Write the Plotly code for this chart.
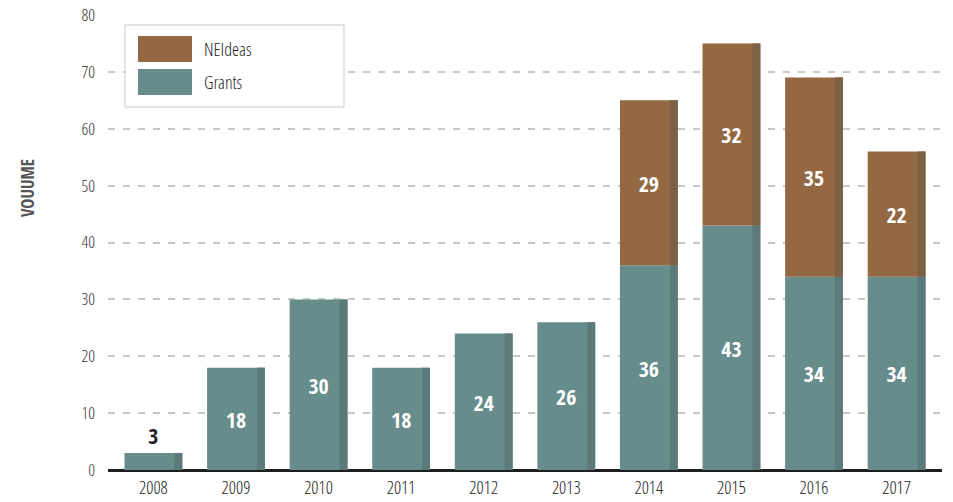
import plotly.graph_objects as go

years = ["2008", "2009", "2010", "2011", "2012", "2013", "2014", "2015", "2016", "2017"]
grants = [3, 18, 30, 18, 24, 26, 36, 43, 34, 34]
neideas = [None, None, None, None, None, None, 29, 32, 35, 22]
y_ticks = [0, 10, 20, 30, 40, 50, 60, 70, 80]

GRANT_FACE, GRANT_SIDE = "#668c8b", "#5b7a79"
IDEA_FACE, IDEA_SIDE = "#936842", "#7b6146"
BOLD_FONT = "Open Sans Condensed, DejaVu Sans Condensed, sans-serif"
LIGHT_FONT = "Open Sans Condensed Light, DejaVu Sans Condensed, sans-serif"

W, H = 953, 502
ML, MR, MT, MB = 108, 11, 15, 32
PW, PH = W - ML - MR, H - MT - MB

idea_base = [g if n is not None else None for g, n in zip(grants, neideas)]

fig = go.Figure()

# bar fronts with value labels
fig.add_trace(go.Bar(
    x=years, y=grants, base=0, width=0.70, offset=-0.35,
    marker=dict(color=GRANT_FACE, line=dict(width=0)),
    text=[str(v) for v in grants],
    textposition=["outside"] + ["inside"] * (len(grants) - 1),
    insidetextanchor="middle",
    insidetextfont=dict(family=BOLD_FONT, size=22, color="white", weight=700),
    outsidetextfont=dict(family=BOLD_FONT, size=22, color="#1e1e1e", weight=700),
    constraintext="none", cliponaxis=False, showlegend=False, hoverinfo="skip",
))
fig.add_trace(go.Bar(
    x=years, y=neideas, base=idea_base, width=0.70, offset=-0.35,
    marker=dict(color=IDEA_FACE, line=dict(width=0)),
    text=[str(v) if v is not None else "" for v in neideas],
    textposition="inside", insidetextanchor="middle",
    insidetextfont=dict(family=BOLD_FONT, size=22, color="white", weight=700),
    constraintext="none", showlegend=False, hoverinfo="skip",
))
# darker side strips for a bevelled look
fig.add_trace(go.Bar(
    x=years, y=grants, base=0, width=0.095, offset=0.255,
    marker=dict(color=GRANT_SIDE, line=dict(width=0)),
    showlegend=False, hoverinfo="skip",
))
fig.add_trace(go.Bar(
    x=years, y=neideas, base=idea_base, width=0.095, offset=0.255,
    marker=dict(color=IDEA_SIDE, line=dict(width=0)),
    showlegend=False, hoverinfo="skip",
))


def px_x(p):
    return (p - ML) / PW


def px_y(p):
    return (H - MB - p) / PH


# legend box with large swatches
shapes = [dict(type="rect", xref="paper", yref="paper",
               x0=px_x(125), x1=px_x(344), y0=px_y(107), y1=px_y(25),
               line=dict(color="#c8c8c8", width=1), fillcolor="white", layer="above")]
annotations = []
for i, (name, col) in enumerate([("NEIdeas", IDEA_FACE), ("Grants", GRANT_FACE)]):
    top = 36 + i * 33
    shapes.append(dict(type="rect", xref="paper", yref="paper",
                       x0=px_x(138), x1=px_x(192), y0=px_y(top + 26), y1=px_y(top),
                       line=dict(width=0), fillcolor=col, layer="above"))
    annotations.append(dict(text=name, xref="paper", yref="paper",
                            x=px_x(202), y=px_y(top + 13), xanchor="left", yanchor="middle",
                            showarrow=False,
                            font=dict(family=LIGHT_FONT, size=18, color="#222")))

annotations.append(dict(text="VOUUME", xref="paper", yref="paper",
                        x=px_x(27), y=px_y(188), xanchor="center", yanchor="middle",
                        textangle=-90, showarrow=False,
                        font=dict(family=BOLD_FONT, size=17, color="#555", weight=700)))

fig.update_layout(
    width=W, height=H, margin=dict(l=ML, r=MR, t=MT, b=MB),
    barmode="overlay", plot_bgcolor="white", paper_bgcolor="white",
    font=dict(family=LIGHT_FONT), showlegend=False,
    shapes=shapes, annotations=annotations,
    xaxis=dict(range=[-0.55, 9.55], showgrid=False, showline=False, ticks="",
               tickfont=dict(family=LIGHT_FONT, size=18, color="#222"),
               ticklabelstandoff=5, automargin=False, fixedrange=True),
    yaxis=dict(range=[0, 80], tickvals=y_ticks, showgrid=True, gridcolor="#c8c8c8",
               gridwidth=2, griddash="7px,8px", zeroline=True, zerolinecolor="#1e1e1e",
               zerolinewidth=3, showline=False, ticks="",
               tickfont=dict(family=LIGHT_FONT, size=17, color="#333"),
               ticklabelstandoff=12, automargin=False, fixedrange=True),
)

fig.write_html("out.html")
